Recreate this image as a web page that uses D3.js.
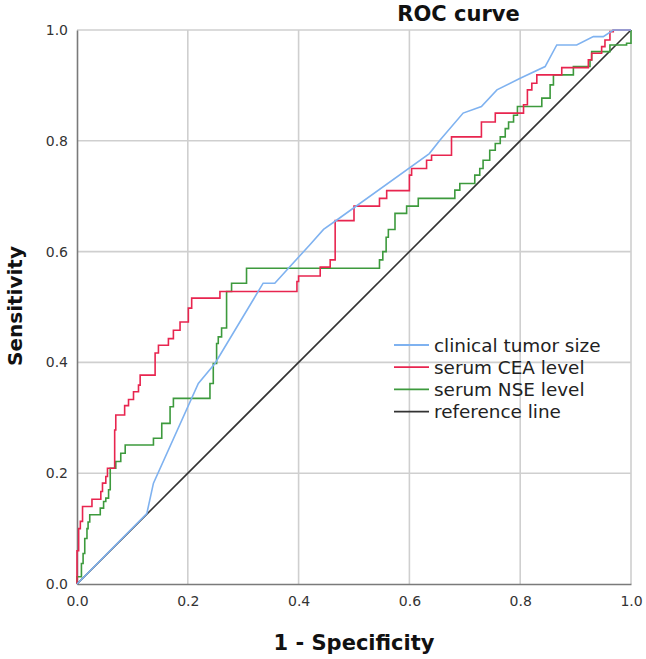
<!DOCTYPE html>
<html>
<head>
<meta charset="utf-8">
<script src="https://cdn.jsdelivr.net/npm/d3@7"></script>
<style>
body { margin: 0; background: #fff; }
svg { display: block; font-family: "DejaVu Sans", sans-serif; }
.grid line { stroke: #cfcfcf; stroke-width: 1.6; }
.tick text { fill: #333; }
</style>
</head>
<body>
<script>
// ROC curves: [1 - specificity, sensitivity]
var tumorSize = [[0,0],[0.126,0.127],[0.138,0.182],[0.219,0.362],[0.249,0.398],[0.336,0.543],[0.357,0.543],
	[0.42,0.612],[0.445,0.640],[0.469,0.657],[0.636,0.777],[0.655,0.801],[0.697,0.850],[0.730,0.862],
	[0.758,0.892],[0.80,0.913],[0.845,0.934],[0.866,0.973],[0.902,0.973],[0.932,0.988],[0.95,0.988],
	[0.968,1.0],[1,1]];
// step curves: each point = where the curve rises, and the level after the rise
var ceaLevel = [[0,0],[0,0.06],[0.003,0.10],[0.006,0.113],[0.010,0.140],[0.027,0.153],[0.043,0.167],
	[0.046,0.182],[0.052,0.194],[0.055,0.209],[0.068,0.278],[0.070,0.305],[0.086,0.322],[0.093,0.333],
	[0.102,0.347],[0.111,0.359],[0.114,0.377],[0.141,0.417],[0.147,0.431],[0.165,0.443],[0.174,0.458],
	[0.186,0.473],[0.201,0.498],[0.207,0.516],[0.258,0.528],[0.397,0.546],[0.400,0.556],[0.439,0.572],
	[0.457,0.585],[0.466,0.656],[0.500,0.682],[0.546,0.696],[0.559,0.710],[0.600,0.738],[0.604,0.750],
	[0.631,0.765],[0.640,0.774],[0.676,0.807],[0.730,0.834],[0.755,0.850],[0.806,0.865],[0.813,0.892],
	[0.821,0.904],[0.830,0.919],[0.875,0.932],[0.923,0.946],[0.929,0.958],[0.947,0.970],[0.953,0.982],
	[0.962,0.997],[0.968,1.0],[1,1]];
var nseLevel = [[0,0],[0,0.013],[0.008,0.037],[0.011,0.055],[0.014,0.082],[0.018,0.100],[0.020,0.112],
	[0.023,0.125],[0.042,0.137],[0.048,0.149],[0.052,0.155],[0.057,0.170],[0.060,0.209],[0.070,0.221],
	[0.079,0.236],[0.087,0.251],[0.138,0.263],[0.153,0.290],[0.168,0.320],[0.174,0.335],[0.240,0.362],
	[0.246,0.398],[0.252,0.434],[0.255,0.446],[0.261,0.462],[0.270,0.528],[0.279,0.543],[0.306,0.570],
	[0.546,0.585],[0.552,0.600],[0.558,0.626],[0.562,0.640],[0.574,0.669],[0.595,0.682],[0.616,0.696],
	[0.682,0.711],[0.691,0.723],[0.718,0.738],[0.727,0.750],[0.733,0.765],[0.745,0.783],[0.755,0.795],
	[0.764,0.807],[0.773,0.822],[0.779,0.834],[0.788,0.846],[0.795,0.862],[0.839,0.877],[0.854,0.901],
	[0.860,0.919],[0.896,0.934],[0.926,0.946],[0.929,0.961],[0.962,0.973],[0.992,0.976],[1,1]];
var refLine = [[0,0],[1,1]];

var ticks = [0, 0.2, 0.4, 0.6, 0.8, 1.0];
var legendNames = ["clinical tumor size", "serum CEA level", "serum NSE level", "reference line"];
var colors = ["#7fb2f0", "#e8254f", "#3d9a3d", "#333333"];

var W = 646, H = 659;
var m = { left: 77, right: 15, top: 30, bottom: 75 };

var svg = d3.select("body").append("svg").attr("width", W).attr("height", H);
var x = d3.scaleLinear().domain([0, 1]).range([m.left, W - m.right]);
var y = d3.scaleLinear().domain([0, 1]).range([H - m.bottom, m.top]);

//сетка
var grid = svg.append("g").attr("class", "grid");
grid.selectAll(".v").data(ticks.slice(1)).enter().append("line")
	.attr("x1", function(d) { return x(d); }).attr("x2", function(d) { return x(d); })
	.attr("y1", y(0)).attr("y2", y(1));
grid.selectAll(".h").data(ticks.slice(1)).enter().append("line")
	.attr("x1", x(0)).attr("x2", x(1))
	.attr("y1", function(d) { return y(d); }).attr("y2", function(d) { return y(d); });

//оси
var xAxis = svg.append("g").attr("transform", "translate(0," + y(0) + ")")
	.call(d3.axisBottom(x).tickValues(ticks).tickFormat(d3.format(".1f")).tickSize(0).tickPadding(12));
var yAxis = svg.append("g").attr("transform", "translate(" + x(0) + ",0)")
	.call(d3.axisLeft(y).tickValues(ticks).tickFormat(d3.format(".1f")).tickSize(0).tickPadding(9));
[xAxis, yAxis].forEach(function(a) {
	a.select(".domain").attr("stroke", "#7a7a7a").attr("stroke-width", 1.6);
	a.selectAll("text").style("font-size", "14px").style("font-family", "DejaVu Sans");
});

var line = d3.line().x(function(d) { return x(d[0]); }).y(function(d) { return y(d[1]); });
var stepLine = d3.line().x(function(d) { return x(d[0]); }).y(function(d) { return y(d[1]); })
	.curve(d3.curveStepAfter);

var g = svg.append("g").attr("fill", "none").attr("stroke-width", 1.6);
g.append("path").datum(refLine).attr("d", line).attr("stroke", colors[3]);
g.append("path").datum(nseLevel).attr("d", stepLine).attr("stroke", colors[2]);
g.append("path").datum(ceaLevel).attr("d", stepLine).attr("stroke", colors[1]);
g.append("path").datum(tumorSize).attr("d", line).attr("stroke", colors[0]);

//легенда
var leg = svg.append("g").selectAll("g").data(legendNames).enter().append("g")
	.attr("transform", function(d, i) { return "translate(394," + (345 + i * 22.2) + ")"; });
leg.append("line").attr("x1", 0).attr("x2", 35).attr("y1", 0).attr("y2", 0)
	.attr("stroke-width", 1.8).attr("stroke", function(d, i) { return colors[i]; });
leg.append("text").attr("x", 40).attr("y", 6.5).attr("fill", "#222")
	.style("font-size", "18.4px").text(function(d) { return d; });

//подписи
svg.append("text").attr("x", 458.5).attr("y", 20.5).attr("text-anchor", "middle")
	.style("font-size", "21px").style("font-weight", "bold").attr("fill", "#111").text("ROC curve");
svg.append("text").attr("x", (x(0) + x(1)) / 2).attr("y", 650).attr("text-anchor", "middle")
	.style("font-size", "21px").style("font-weight", "bold").attr("fill", "#111").text("1 - Specificity");
svg.append("text").attr("transform", "translate(22,306) rotate(-90)").attr("text-anchor", "middle")
	.style("font-size", "20px").style("font-weight", "bold").attr("fill", "#111").text("Sensitivity");
</script>
</body>
</html>
